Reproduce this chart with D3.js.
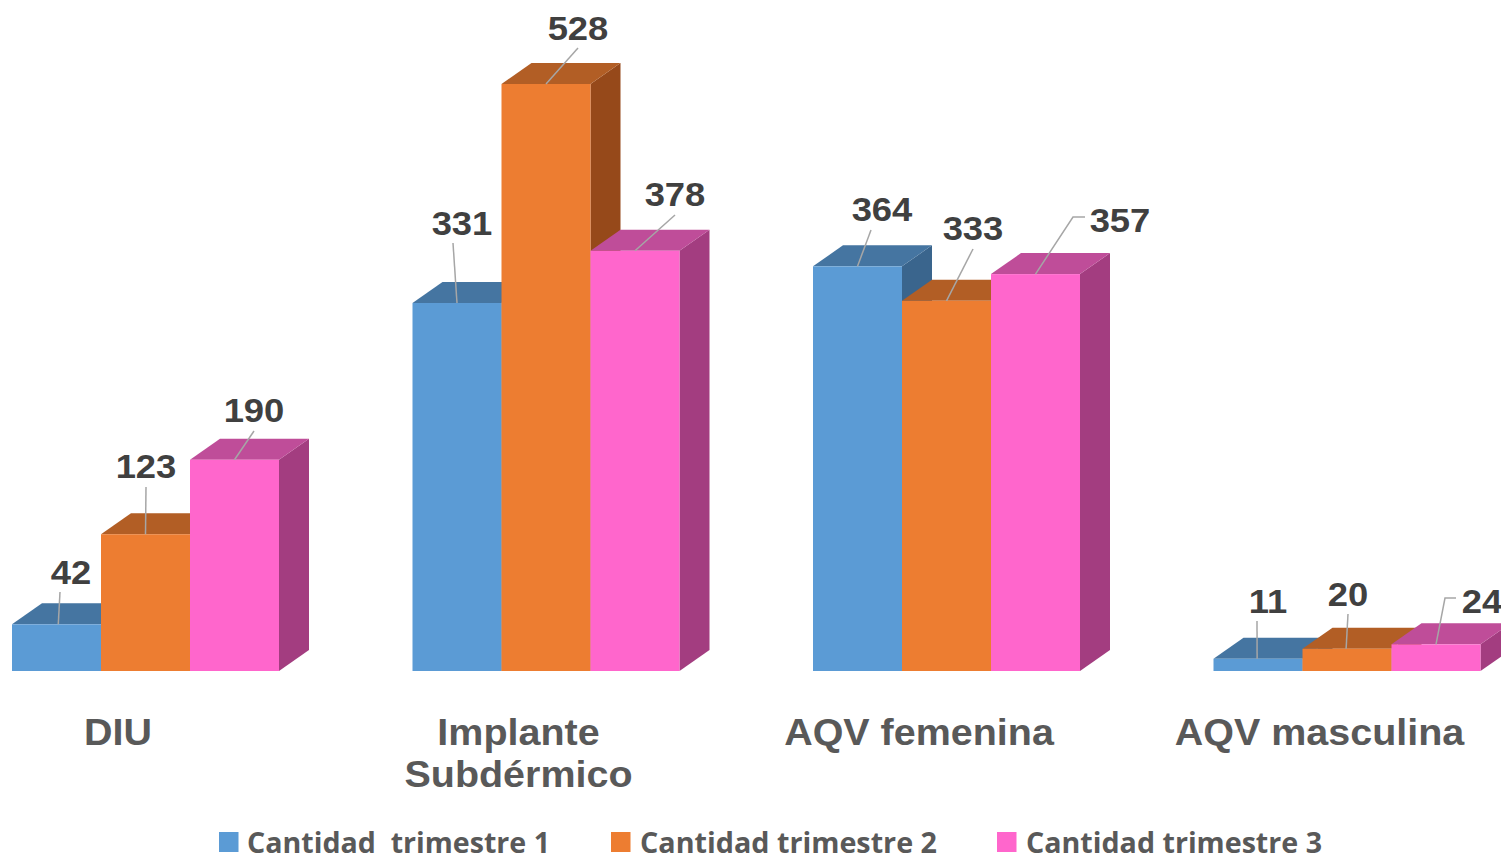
<!DOCTYPE html>
<html><head><meta charset="utf-8">
<style>html,body{margin:0;padding:0;background:#fff;overflow:hidden}svg{display:block}</style>
<script src="https://cdn.jsdelivr.net/npm/d3@7"></script></head>
<body><svg id="c" width="1501" height="856"></svg>
<script>
const categories = ["DIU", "Implante Subdérmico", "AQV femenina", "AQV masculina"];
const categoryLines = [["DIU"], ["Implante", "Subdérmico"], ["AQV femenina"], ["AQV masculina"]];
const seriesNames = ["Cantidad  trimestre 1", "Cantidad trimestre 2", "Cantidad trimestre 3"];
const trimestre1 = [42, 331, 364, 11];
const trimestre2 = [123, 528, 333, 20];
const trimestre3 = [190, 378, 357, 24];
const seriesValues = [trimestre1, trimestre2, trimestre3];

// styling and manual label layout
const front = ["#5B9BD5", "#ED7D31", "#FF66CC"];
const top3d = ["#4575A1", "#B25E25", "#BF4D99"];
const side3d = ["#3A658D", "#96491A", "#A33D80"];
const labelLayout = [
 [{x:71,y:584,l:[[60,592]]},{x:146,y:478,l:[[146,487]]},{x:254,y:422,l:[[254,431]]}],
 [{x:462,y:235,l:[[453,243]]},{x:578,y:40,l:[[578,48]]},{x:675,y:206,l:[[675,215]]}],
 [{x:882,y:221,l:[[871,230]]},{x:973,y:240,l:[[973,249]]},{x:1120,y:232,l:[[1085,217],[1073,217]]}],
 [{x:1268,y:613,l:[[1257,621]]},{x:1348,y:606,l:[[1348,614]]},{x:1482,y:613,l:[[1456,598],[1445,598]]}]
];
const leaderEndFrac = [[.52,.5,.5],[.5,.5,.5],[.5,.5,.5],[.49,.49,.5]];
const depthX = 30, depthY = 21;
const stretchText = (sel, k) => sel.attr("lengthAdjust","spacingAndGlyphs")
  .attr("textLength", sel.node().getComputedTextLength() * k);

const svg = d3.select("#c");
const y = d3.scaleLinear().domain([0, 528]).range([671, 84]);
const x0 = d3.scaleBand().domain(categories).range([12, 1480.5]).paddingInner(1/3).paddingOuter(0);
const x1 = d3.scaleBand().domain(d3.range(3)).range([0, x0.bandwidth()]);
const w = x1.bandwidth();
const pts = a => a.map(p => p.join(",")).join(" ");

categories.forEach((cat, c) => {
  const g = svg.append("g");
  d3.range(3).forEach(s => {
    const v = seriesValues[s][c];
    const xl = x0(cat) + x1(s), xr = xl + w, yt = y(v), yb = y(0);
    g.append("polygon").attr("fill", side3d[s])
      .attr("points", pts([[xr,yt],[xr+depthX,yt-depthY],[xr+depthX,yb-depthY],[xr,yb]]));
    g.append("polygon").attr("fill", top3d[s])
      .attr("points", pts([[xl,yt],[xl+depthX,yt-depthY],[xr+depthX,yt-depthY],[xr,yt]]));
    g.append("rect").attr("fill", front[s]).attr("x", xl).attr("y", yt).attr("width", w).attr("height", yb-yt);
  });
});

categories.forEach((cat, c) => {
  d3.range(3).forEach(s => {
    const v = seriesValues[s][c], L = labelLayout[c][s];
    const end = [x0(cat) + x1(s) + w*leaderEndFrac[c][s], y(v)];
    svg.append("polyline").attr("fill","none").attr("stroke","#A6A6A6").attr("stroke-width",1.5)
      .attr("points", pts([...L.l, end]));
    const t = svg.append("text").attr("x", L.x).attr("y", L.y).attr("text-anchor","middle")
      .attr("font-family","Liberation Sans").attr("font-weight","bold").attr("font-size",34)
      .attr("fill","#404040").text(v);
    stretchText(t, 1.07);
  });
  categoryLines[c].forEach((line, i) => {
    const t = svg.append("text").attr("x", x0(cat) + x0.bandwidth()/2 - 27.5).attr("y", 745 + i*42)
      .attr("text-anchor","middle").attr("font-family","Liberation Sans").attr("font-weight","bold")
      .attr("font-size",36).attr("fill","#595959").text(line);
    stretchText(t, 1.096);
  });
});

const legendSwatchX = [219, 611, 997], legendTextX = [247, 640, 1026], legendTextW = [303, 297, 296];
seriesNames.forEach((n, s) => {
  svg.append("rect").attr("x", legendSwatchX[s]).attr("y", 832).attr("width", 19.5).attr("height", 20).attr("fill", front[s]);
  svg.append("text").attr("x", legendTextX[s]).attr("y", 853).style("white-space","pre")
    .attr("font-family","Open Sans").attr("font-weight","bold").attr("font-size",28)
    .attr("textLength", legendTextW[s]).attr("lengthAdjust","spacingAndGlyphs")
    .attr("fill","#595959").text(n);
});
</script></body></html>
